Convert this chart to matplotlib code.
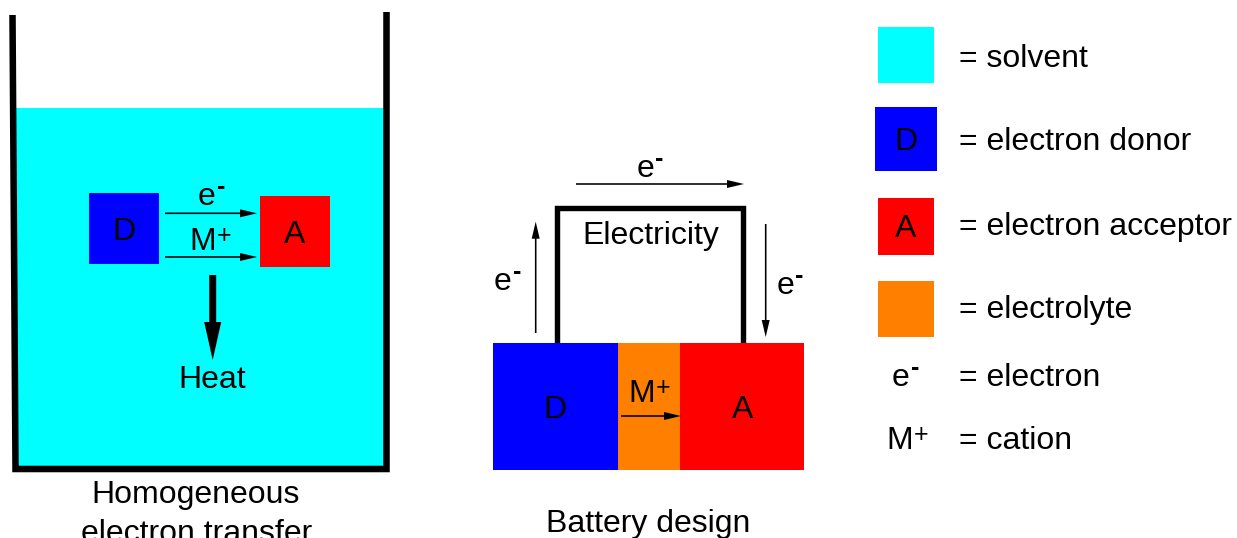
import matplotlib
matplotlib.use('Agg')
import matplotlib.pyplot as plt
from matplotlib.patches import Rectangle

plt.rcParams['font.family'] = ['Liberation Sans', 'DejaVu Sans']

# ---- content -------------------------------------------------------------
solvent_color = '#00FFFF'
donor_color = '#0000FF'
acceptor_color = '#FF0000'
electrolyte_color = '#FF8000'

swatch_colors = [solvent_color, donor_color, acceptor_color, electrolyte_color]
swatch_letters = ['', 'D', 'A', '']
legend_text = ['= solvent', '= electron donor', '= electron acceptor',
               '= electrolyte', '= electron', '= cation']
electron = ('e', '-')
cation = ('M', '+')
left_title = ['Homogeneous', 'electron transfer']
right_title = 'Battery design'
circuit_label = 'Electricity'
heat_label = 'Heat'

# ---- layout (pixel units, y down) ---------------------------------------
W, H = 1237, 538
FS = 23
SUP_FS = 18

fig = plt.figure(figsize=(W / 100, H / 100), dpi=100)
ax = fig.add_axes([0, 0, 1, 1])
ax.set_xlim(0, W)
ax.set_ylim(H, 0)
ax.axis('off')


def box(x0, y0, x1, y1, color, letter='', lx=None, ly=None):
    ax.add_patch(Rectangle((x0, y0), x1 - x0, y1 - y0, fc=color, ec='none', zorder=2))
    if letter:
        ax.text(lx, ly, letter, ha='center', va='baseline', fontsize=FS, zorder=4)


def ion(x, y, pair):
    base, sup = pair
    ax.text(x, y, base, ha='left', va='baseline', fontsize=FS, zorder=4)
    if sup == '-':
        ax.text(x + 18.5, y - 11, sup, ha='left', va='baseline', fontsize=SUP_FS,
                fontweight='bold', zorder=4)
    else:
        ax.text(x + 27.5, y - 7, sup, ha='left', va='baseline', fontsize=SUP_FS, zorder=4)


def thin_arrow(x0, y0, x1, y1):
    ax.arrow(x0, y0, x1 - x0, y1 - y0, width=1.6, head_width=8, head_length=17,
             length_includes_head=True, fc='k', ec='k', lw=0, zorder=5)


#=============================================================================#
# homogeneous electron transfer (beaker)
ax.add_patch(Rectangle((14, 108), 372, 360, fc=solvent_color, ec='none', zorder=1))
ax.plot([12.5, 15.5, 386.5, 386.5], [15, 469, 469, 12], color='k', lw=4.7,
        solid_joinstyle='miter', solid_capstyle='butt', zorder=3)

box(89, 193, 159, 264, donor_color, 'D', 123.5, 240)
box(260, 196, 330, 267, acceptor_color, 'A', 295, 243)
thin_arrow(165, 213.3, 257, 213.3)
thin_arrow(165, 257, 257, 257)
ion(198, 205, electron)
ion(189.5, 250, cation)
ax.arrow(212.7, 275, 0, 85, width=7, head_width=17, head_length=38,
         length_includes_head=True, fc='k', ec='k', lw=0, zorder=5)
ax.text(211.7, 388, heat_label, ha='center', va='baseline', fontsize=FS)
ax.text(196, 503, left_title[0], ha='center', va='baseline', fontsize=FS)
# the second line runs off the bottom edge, as in the original
ax.text(196.5, 542, left_title[1], ha='center', va='baseline', fontsize=FS)

#=============================================================================#
# battery design
ax.plot([557.3, 557.3, 742.7, 742.7], [343, 207.5, 207.5, 343], color='k', lw=3.9,
        solid_joinstyle='miter', zorder=1)
box(493.3, 342.7, 617.7, 470, donor_color, 'D', 555, 418.3)
box(617.7, 342.7, 680, 470, electrolyte_color)
box(680, 342.7, 804.3, 470, acceptor_color, 'A', 742.5, 418.3)
thin_arrow(576, 184, 744, 184)
thin_arrow(535.7, 333, 535.7, 221.7)
thin_arrow(765.7, 224, 765.7, 337)
thin_arrow(621, 416, 681, 416)
ion(637, 176.7, electron)
ion(494, 290, electron)
ion(776.7, 294, electron)
ion(628.5, 401.7, cation)
ax.text(650.5, 244, circuit_label, ha='center', va='baseline', fontsize=FS)
ax.text(648.5, 531.7, right_title, ha='center', va='baseline', fontsize=FS)

#=============================================================================#
# legend
swatch_rows = [(877.7, 27.3, 934.3, 83.3), (875, 107.3, 937, 170.7),
               (877.7, 198.3, 934.3, 255), (877.7, 281, 934.3, 337.3)]
letter_base = [0, 150, 236.7, 0]
for (x0, y0, x1, y1), c, ltr, lb in zip(swatch_rows, swatch_colors, swatch_letters, letter_base):
    box(x0, y0, x1, y1, c, ltr, (x0 + x1) / 2, lb)

text_base = [66.7, 150, 235, 318.3, 385.7, 449.3]
for t, yb in zip(legend_text, text_base):
    ax.text(959, yb, t, ha='left', va='baseline', fontsize=FS)
ion(892, 385.5, electron)
ion(886.5, 449.3, cation)

fig.savefig('out.png', dpi=100)
